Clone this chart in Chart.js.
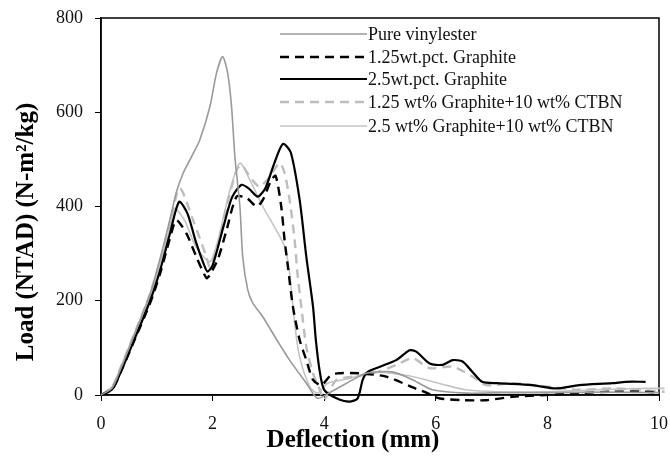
<!DOCTYPE html>
<html>
<head>
<meta charset="utf-8">
<script src="https://cdn.jsdelivr.net/npm/chart.js@4/dist/chart.umd.min.js"></script>
<style>
  html, body { margin: 0; padding: 0; background: #fff; }
  #wrap { width: 670px; height: 456px; }
</style>
</head>
<body>
<div id="wrap"><canvas id="loadChart" width="670" height="456"></canvas></div>
<script>
// series labels
const seriesNames = [
  'Pure vinylester',
  '1.25wt.pct. Graphite',
  '2.5wt.pct. Graphite',
  '1.25 wt% Graphite+10 wt% CTBN',
  '2.5 wt% Graphite+10 wt% CTBN'
];

// Pure vinylester
const pureX = [0, 0.2, 0.35, 0.57, 0.88, 1.06, 1.23, 1.35, 1.47, 1.62, 1.77, 1.95, 2.07, 2.18, 2.27, 2.34, 2.40, 2.49, 2.54, 2.63, 2.72, 2.90, 3.15, 3.38, 3.68, 3.88, 4.1, 4.4, 4.76, 5.22, 5.59, 5.94, 6.54, 7.2, 8, 9, 10];
const pureY = [0, 15, 55, 120, 215, 290, 370, 430, 470, 505, 541, 611, 683, 718, 683, 611, 505, 399, 293, 223, 195, 166, 117, 74, 25, -7, 5, 25, 46, 49, 32, 11, 4, 5, 5, 6, 5];

// 1.25 wt.pct. graphite
const g125X = [0, 0.2, 0.34, 0.57, 0.88, 1.06, 1.23, 1.35, 1.53, 1.71, 1.89, 1.95, 2.1, 2.25, 2.43, 2.61, 2.79, 2.90, 3.05, 3.13, 3.23, 3.29, 3.35, 3.44, 3.56, 3.68, 3.80, 3.95, 4.1, 4.23, 4.63, 5.11, 5.59, 5.83, 6.06, 6.48, 6.90, 7.37, 7.97, 8.57, 9.17, 9.76, 10];
const g125Y = [0, 12, 45, 108, 195, 258, 330, 371, 343, 293, 248, 255, 290, 350, 421, 418, 400, 414, 456, 465, 400, 329, 272, 187, 117, 74, 32, 21, 40, 46, 46, 39, 16, 5, -7, -11, -11, -4, 0, 4, 7, 7, 5];

// 2.5 wt.pct. graphite
const g25X = [0, 0.2, 0.34, 0.57, 0.88, 1.06, 1.23, 1.40, 1.55, 1.70, 1.85, 1.91, 2.0, 2.2, 2.35, 2.52, 2.65, 2.81, 2.95, 3.1, 3.26, 3.4, 3.56, 3.68, 3.80, 3.85, 3.92, 4.0, 4.22, 4.45, 4.6, 4.69, 4.78, 5.0, 5.29, 5.53, 5.65, 5.89, 6.12, 6.3, 6.48, 6.65, 6.83, 7.1, 7.73, 8.15, 8.57, 9.17, 9.4, 9.76];
const g25Y = [0, 12, 45, 110, 200, 265, 340, 410, 385, 325, 275, 262, 275, 360, 420, 446, 438, 421, 440, 490, 533, 515, 414, 293, 187, 117, 50, 11, -7, -14, -7, 32, 49, 60, 74, 95, 92, 67, 64, 74, 71, 50, 28, 25, 21, 14, 21, 25, 28, 28];

// 1.25 wt% graphite + 10 wt% CTBN
const c125X = [0, 0.2, 0.34, 0.57, 0.88, 1.06, 1.23, 1.41, 1.65, 1.89, 1.95, 2.1, 2.25, 2.43, 2.52, 2.67, 2.84, 3.02, 3.20, 3.29, 3.38, 3.47, 3.52, 3.59, 3.68, 3.80, 3.92, 4.0, 4.22, 4.6, 5.0, 5.35, 5.59, 5.89, 6.30, 6.66, 6.90, 7.37, 7.97, 8.57, 9.17, 10.1];
const c125Y = [0, 18, 55, 122, 215, 285, 360, 439, 371, 293, 272, 320, 400, 477, 488, 463, 442, 463, 492, 471, 414, 329, 259, 187, 102, 46, 11, -10, 32, 40, 50, 67, 78, 57, 60, 39, 21, 25, 18, 11, 14, 7];

// 2.5 wt% graphite + 10 wt% CTBN
const c25X = [0, 0.2, 0.34, 0.57, 0.88, 1.06, 1.23, 1.32, 1.5, 1.7, 1.95, 2.1, 2.3, 2.49, 2.67, 2.90, 3.14, 3.29, 3.38, 3.47, 3.56, 3.74, 3.88, 4.06, 4.45, 4.87, 5.47, 5.83, 6.18, 6.54, 7.1, 7.97, 8.87, 9.76, 10.1];
const c25Y = [0, 18, 55, 122, 212, 280, 355, 396, 370, 315, 283, 330, 430, 492, 456, 400, 350, 315, 259, 152, 81, 18, 4, 25, 35, 49, 42, 32, 21, 11, 7, 7, 11, 14, 14];

// axis ticks and titles
const xTicks = [0, 2, 4, 6, 8, 10];
const yTicks = [0, 200, 400, 600, 800];
const xTitle = 'Deflection (mm)';
const yTitle = 'Load (NTAD) (N-m²/kg)';

const pts = (xs, ys) => xs.map((x, i) => ({ x: x, y: ys[i] }));

const serif = "'Liberation Serif', 'Times New Roman', serif";

// legend drawn inside the plot, top right
const insideLegend = {
  id: 'insideLegend',
  afterDatasetsDraw(chart) {
    const ctx = chart.ctx;
    const rows = [34, 57, 79, 102, 126];
    ctx.save();
    chart.data.datasets.forEach((ds, i) => {
      const y = rows[i];
      ctx.beginPath();
      ctx.strokeStyle = ds.borderColor;
      ctx.lineWidth = ds.borderWidth;
      ctx.setLineDash(ds.borderDash || []);
      ctx.moveTo(280, y);
      ctx.lineTo(367, y);
      ctx.stroke();
      ctx.setLineDash([]);
      ctx.fillStyle = '#111';
      ctx.font = '18px ' + serif;
      ctx.textBaseline = 'middle';
      ctx.textAlign = 'left';
      ctx.fillText(ds.label, 368, y + 1);
    });
    ctx.restore();
  }
};

// box around the plot area + axis titles (placed off-centre like the original)
const plotBox = {
  id: 'plotBox',
  beforeDatasetsDraw(chart) {
    const a = chart.chartArea;
    const ctx = chart.ctx;
    ctx.save();
    ctx.strokeStyle = '#000';
    ctx.lineWidth = 1.5;
    ctx.strokeRect(a.left, a.top, a.right - a.left, a.bottom - a.top);
    ctx.restore();
  },
  afterDraw(chart) {
    const ctx = chart.ctx;
    ctx.save();
    ctx.fillStyle = '#000';
    ctx.font = 'bold 25px ' + serif;
    ctx.textAlign = 'center';
    ctx.textBaseline = 'middle';
    ctx.fillText(xTitle, 353, 441);
    ctx.translate(27, 232);
    ctx.rotate(-Math.PI / 2);
    ctx.fillText(yTitle, 0, 0);
    ctx.restore();
  }
};

const styles = [
  { color: '#9a9a9a', width: 1.6, dash: [] },
  { color: '#000000', width: 2.4, dash: [9, 6] },
  { color: '#000000', width: 2.2, dash: [] },
  { color: '#bdbdbd', width: 2.4, dash: [9, 6] },
  { color: '#c4c4c4', width: 1.6, dash: [] }
];
const seriesData = [pts(pureX, pureY), pts(g125X, g125Y), pts(g25X, g25Y), pts(c125X, c125Y), pts(c25X, c25Y)];

new Chart(document.getElementById('loadChart'), {
  type: 'scatter',
  data: {
    datasets: seriesData.map((d, i) => ({
      label: seriesNames[i],
      data: d,
      showLine: true,
      borderColor: styles[i].color,
      borderWidth: styles[i].width,
      borderDash: styles[i].dash,
      pointRadius: 0,
      tension: 0.25,
      fill: false,
      clip: 8
    }))
  },
  options: {
    responsive: false,
    animation: false,
    layout: { padding: { top: 18, right: 11, left: 0, bottom: 0 } },
    plugins: {
      legend: { display: false },
      tooltip: { enabled: false }
    },
    scales: {
      x: {
        type: 'linear',
        min: 0,
        max: 10,
        afterBuildTicks: s => { s.ticks = xTicks.map(v => ({ value: v })); },
        grid: { drawOnChartArea: false, drawTicks: true, tickLength: 6, color: '#000' },
        border: { color: '#000', width: 1.5 },
        ticks: { color: '#111', font: { family: serif, size: 18 }, padding: 12, maxRotation: 0 },
        afterFit: s => { s.height = 61; s.paddingLeft = 0; s.paddingRight = 0; }
      },
      y: {
        min: 0,
        max: 800,
        afterBuildTicks: s => { s.ticks = yTicks.map(v => ({ value: v })); },
        grid: { drawOnChartArea: false, drawTicks: true, tickLength: 6, color: '#000' },
        border: { color: '#000', width: 1.5 },
        ticks: { color: '#111', font: { family: serif, size: 18 }, padding: 12 },
        afterFit: s => { s.width = 101; s.paddingTop = 0; s.paddingBottom = 0; }
      }
    }
  },
  plugins: [plotBox, insideLegend]
});
</script>
</body>
</html>
